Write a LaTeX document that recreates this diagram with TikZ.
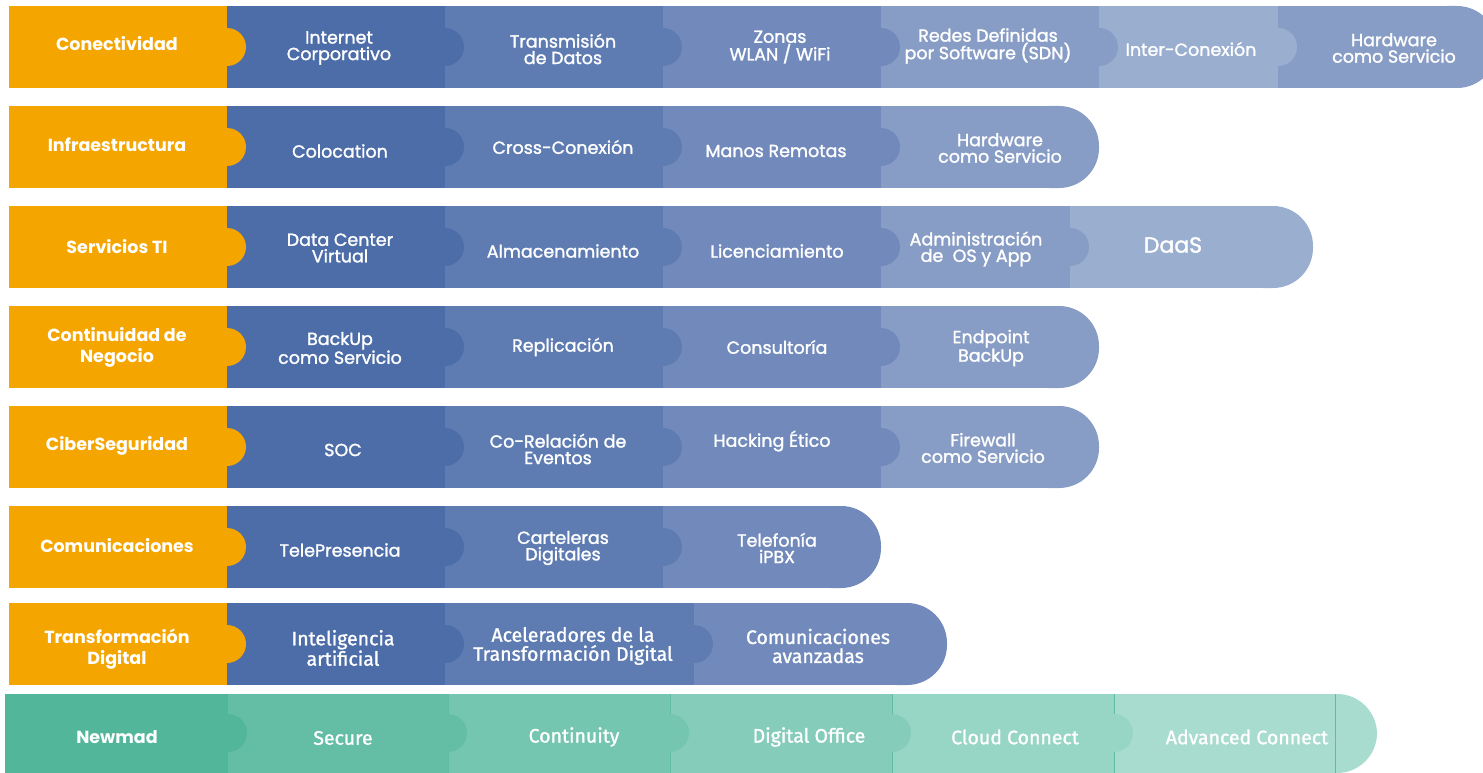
\documentclass[tikz,border=0pt]{standalone}
\usepackage{fontspec}
\setmainfont{Poppins}
\newfontfamily\pmed[FakeBold=1.5]{Poppins}
\newfontfamily\fira[FakeBold=1.2]{Fira Sans}
\definecolor{org}{HTML}{F5A500}
\definecolor{bA}{HTML}{4D6DA9}
\definecolor{bB}{HTML}{5E7CB2}
\definecolor{bC}{HTML}{718ABB}
\definecolor{bD}{HTML}{889DC5}
\definecolor{bE}{HTML}{9AAED0}
\definecolor{gA}{HTML}{52B79A}
\definecolor{gB}{HTML}{63BEA5}
\definecolor{gC}{HTML}{74C6B0}
\definecolor{gD}{HTML}{85CDBA}
\definecolor{gE}{HTML}{97D5C5}
\definecolor{gF}{HTML}{A8DCCE}
\definecolor{gL}{HTML}{5FBDA2}
\newcommand\cellbox[5]{\fill[#5] (#1,#3) rectangle (#2,#4);}
\newcommand\capbox[5]{\fill[#5] (#1,#3) rectangle (#2-45,#4); \fill[#5,rounded corners=40pt] (#2-90,#3) rectangle (#2,#4);}
\newcommand\knobat[3]{\fill[#3] (#1,#2) circle (19pt);}
\tikzset{
  lab/.style={text=white, font=\bfseries\fontsize{17.5}{21}\selectfont, align=center, inner sep=0pt},
  txt/.style={text=white, font=\pmed\fontsize{17.5}{16.5}\selectfont, align=center, inner sep=0pt},
  ftxt/.style={text=white, font=\fira\fontsize{19.5}{19}\selectfont, align=center, inner sep=0pt},
  gtxt/.style={text=white, font=\fira\fontsize{19.5}{19}\selectfont, align=center, inner sep=0pt},
  sep/.style={draw=gL, line width=0.8pt}
}
\begin{document}
\begin{tikzpicture}[x=1pt,y=-1pt]
\useasboundingbox (0,0) rectangle (1483,773);
\clip (0,0) rectangle (1483,773);
% Row 1
\cellbox{9}{227}{6}{88}{org}
\cellbox{227}{445}{6}{88}{bA}
\cellbox{445}{663}{6}{88}{bB}
\cellbox{663}{881}{6}{88}{bC}
\cellbox{881}{1099}{6}{88}{bD}
\cellbox{1099}{1278}{6}{88}{bE}
\capbox{1278}{1497}{6}{88}{bD}
\knobat{227}{47}{org}\knobat{445}{47}{bA}\knobat{663}{47}{bB}
\knobat{881}{47}{bC}\knobat{1099}{47}{bD}\knobat{1278}{47}{bE}
% Row 2
\cellbox{9}{227}{106}{188}{org}
\cellbox{227}{445}{106}{188}{bA}
\cellbox{445}{663}{106}{188}{bB}
\cellbox{663}{881}{106}{188}{bC}
\capbox{881}{1099}{106}{188}{bD}
\knobat{227}{147}{org}\knobat{445}{147}{bA}\knobat{663}{147}{bB}\knobat{881}{147}{bC}
% Row 3
\cellbox{9}{227}{206}{288}{org}
\cellbox{227}{445}{206}{288}{bA}
\cellbox{445}{663}{206}{288}{bB}
\cellbox{663}{881}{206}{288}{bC}
\cellbox{881}{1070}{206}{288}{bD}
\capbox{1070}{1313}{206}{288}{bE}
\knobat{227}{247}{org}\knobat{445}{247}{bA}\knobat{663}{247}{bB}\knobat{881}{247}{bC}\knobat{1070}{247}{bD}
% Row 4
\cellbox{9}{227}{306}{388}{org}
\cellbox{227}{445}{306}{388}{bA}
\cellbox{445}{663}{306}{388}{bB}
\cellbox{663}{881}{306}{388}{bC}
\capbox{881}{1099}{306}{388}{bD}
\knobat{227}{347}{org}\knobat{445}{347}{bA}\knobat{663}{347}{bB}\knobat{881}{347}{bC}
% Row 5
\cellbox{9}{227}{406}{488}{org}
\cellbox{227}{445}{406}{488}{bA}
\cellbox{445}{663}{406}{488}{bB}
\cellbox{663}{881}{406}{488}{bC}
\capbox{881}{1099}{406}{488}{bD}
\knobat{227}{447}{org}\knobat{445}{447}{bA}\knobat{663}{447}{bB}\knobat{881}{447}{bC}
% Row 6
\cellbox{9}{227}{506}{588}{org}
\cellbox{227}{445}{506}{588}{bA}
\cellbox{445}{663}{506}{588}{bB}
\capbox{663}{881}{506}{588}{bC}
\knobat{227}{547}{org}\knobat{445}{547}{bA}\knobat{663}{547}{bB}
% Row 7
\cellbox{9}{227}{603}{685}{org}
\cellbox{227}{445}{603}{685}{bA}
\cellbox{445}{694}{603}{685}{bB}
\capbox{694}{947}{603}{685}{bC}
\knobat{227}{644}{org}\knobat{445}{644}{bA}\knobat{694}{644}{bB}
% Row 8
\cellbox{5}{228}{694}{773}{gA}
\cellbox{228}{448}{694}{773}{gB}
\cellbox{448}{670}{694}{773}{gC}
\cellbox{670}{892}{694}{773}{gD}
\cellbox{892}{1114}{694}{773}{gE}
\fill[gF,rounded corners=40pt] (1290,694) rectangle (1377,773);
\cellbox{1114}{1335}{694}{773}{gF}
\foreach \xx in {448,670,892,1114,1335} {\draw[sep] (\xx,694) -- (\xx,773);}
\knobat{228}{733}{gA}\knobat{448}{733}{gB}\knobat{670}{733}{gC}\knobat{892}{733}{gD}\knobat{1114}{733}{gE}
% Texts row 1
\node[lab] (l1) at (117,44) {Conectividad};
\node[txt] (a11) at (339,48) {Internet\\Corporativo};
\node[txt] (a12) at (563,49) {Transmisión\\de Datos};
\node[txt] (a13) at (780,47) {Zonas\\WLAN / WiFi};
\node[txt] (a14) at (988,46) {Redes Definidas\\por Software (SDN)};
\node[txt] (a15) at (1191,49) {Inter-Conexión};
\node[txt] (a16) at (1394,48) {Hardware\\como Servicio};
% row 2
\node[lab] (l2) at (117,145) {Infraestructura};
\node[txt] (a21) at (340,151) {Colocation};
\node[txt] (a22) at (563,147) {Cross-Conexión};
\node[txt] (a23) at (776,151) {Manos Remotas};
\node[txt] (a24) at (1000,148) {Hardware\\como Servicio};
% row 3
\node[lab] (l3) at (117,247) {Servicios TI};
\node[txt] (a31) at (340,248) {Data Center\\Virtual};
\node[txt] (a32) at (563,251) {Almacenamiento};
\node[txt] (a33) at (777,251) {Licenciamiento};
\node[txt] (a34) at (976,249) {Administración\\de~ OS y App};
\node[txt, font=\pmed\fontsize{22}{24}\selectfont] (a35) at (1173,245) {DaaS};
% row 4
\node[lab] (l4) at (117,347) {Continuidad de\\Negocio};
\node[txt] (a41) at (340,348) {BackUp\\como Servicio};
\node[txt] (a42) at (563,347) {Replicación};
\node[txt] (a43) at (777,347) {Consultoría};
\node[txt] (a44) at (991,348) {Endpoint\\BackUp};
% row 5
\node[lab] (l5) at (117,446) {CiberSeguridad};
\node[txt] (a51) at (343,450) {SOC};
\node[txt] (a52) at (558,449) {Co-Relación de\\Eventos};
\node[txt] (a53) at (772,441) {Hacking Ético};
\node[txt] (a54) at (983,448) {Firewall\\como Servicio};
% row 6
\node[lab] (l6) at (117,546) {Comunicaciones};
\node[txt] (a61) at (340,550) {TelePresencia};
\node[txt] (a62) at (563,548) {Carteleras\\Digitales};
\node[txt] (a63) at (777,548) {Telefonía\\iPBX};
% row 7
\node[lab] (l7) at (117,649) {Transformación\\Digital};
\node[ftxt] (a71) at (343,648) {Inteligencia\\artificial};
\node[ftxt] (a72) at (573,646) {Aceleradores de la\\Transformación Digital};
\node[ftxt] (a73) at (818,646) {Comunicaciones\\avanzadas};
% row 8
\node[lab] (l8) at (117,737) {Newmad};
\node[gtxt] (g1) at (343,738) {Secure};
\node[gtxt] (g2) at (574,737) {Continuity};
\node[gtxt] (g3) at (809,737) {Digital Office};
\node[gtxt] (g4) at (1015,737) {Cloud Connect};
\node[gtxt] (g5) at (1247,737) {Advanced Connect};
\end{tikzpicture}
\end{document}
